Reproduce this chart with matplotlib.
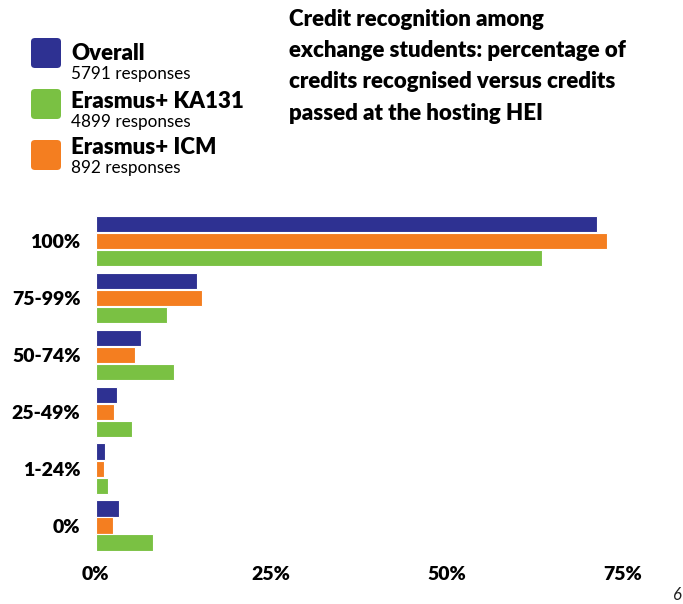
import numpy as np
import matplotlib.pyplot as plt
from matplotlib.patches import FancyBboxPatch

plt.rcParams['font.family'] = ['Lato', 'DejaVu Sans']

categories = ['100%', '75-99%', '50-74%', '25-49%', '1-24%', '0%']
overall = [71.4, 14.4, 6.4, 3.0, 1.3, 3.3]
icm = [72.8, 15.2, 5.6, 2.6, 1.2, 2.5]
ka131 = [63.6, 10.2, 11.1, 5.2, 1.7, 8.1]

series_names = ['Overall', 'Erasmus+ KA131', 'Erasmus+ ICM']
responses = ['5791 responses', '4899 responses', '892 responses']
colors = {'Overall': '#2E3192', 'Erasmus+ KA131': '#7AC143', 'Erasmus+ ICM': '#F47E20'}

W, H = 683, 604
fig = plt.figure(figsize=(W / 100, H / 100), dpi=100)
ax = fig.add_axes([95.7 / W, 1 - 550.7 / H, 561.6 / W, (550.7 - 216) / H])

y = np.arange(len(categories))
off = 0.3
h = 0.285
kw = dict(height=h, edgecolor='white', linewidth=0.8)
ax.barh(y - off, overall, color=colors['Overall'], **kw)
ax.barh(y, icm, color=colors['Erasmus+ ICM'], **kw)
ax.barh(y + off, ka131, color=colors['Erasmus+ KA131'], **kw)

ax.set_xlim(0, 80)
ax.set_ylim(5 + off + h / 2, -off - h / 2)
ax.set_yticks(y)
ax.set_yticklabels(categories, fontsize=14, fontweight='heavy')
ax.set_xticks([0, 25, 50, 75])
ax.set_xticklabels(['0%', '25%', '50%', '75%'], fontsize=14, fontweight='heavy')
ax.tick_params(length=0, pad=11)
ax.tick_params(axis='x', pad=11)
for s in ax.spines.values():
    s.set_visible(False)

# legend drawn by hand
sq_tops = [38, 89, 140]
name_base = [60, 108, 154]
resp_base = [79, 127, 173]
for i, name in enumerate(series_names):
    top = sq_tops[i]
    box = FancyBboxPatch((31 / W, 1 - (top + 30) / H), 30 / W, 30 / H,
                         boxstyle='round,pad=0,rounding_size=0.006',
                         transform=fig.transFigure, facecolor=colors[name],
                         edgecolor='none')
    fig.add_artist(box)
    fig.text(71 / W, 1 - name_base[i] / H, name, fontsize=16, fontweight='heavy',
             va='baseline', ha='left')
    fig.text(71 / W, 1 - resp_base[i] / H, responses[i], fontsize=12.3,
             va='baseline', ha='left')

title = ('Credit recognition among\nexchange students: percentage of\n'
         'credits recognised versus credits\npassed at the hosting HEI')
fig.text(289 / W, 1 - 9 / H, title, fontsize=16, fontweight='heavy',
         va='top', ha='left', linespacing=1.6)

fig.text(682 / W, 1 - 603 / H, '6', fontsize=12, style='italic', ha='right', va='bottom',
         color='#222222')

fig.savefig('out.png', dpi=100, facecolor='white')
